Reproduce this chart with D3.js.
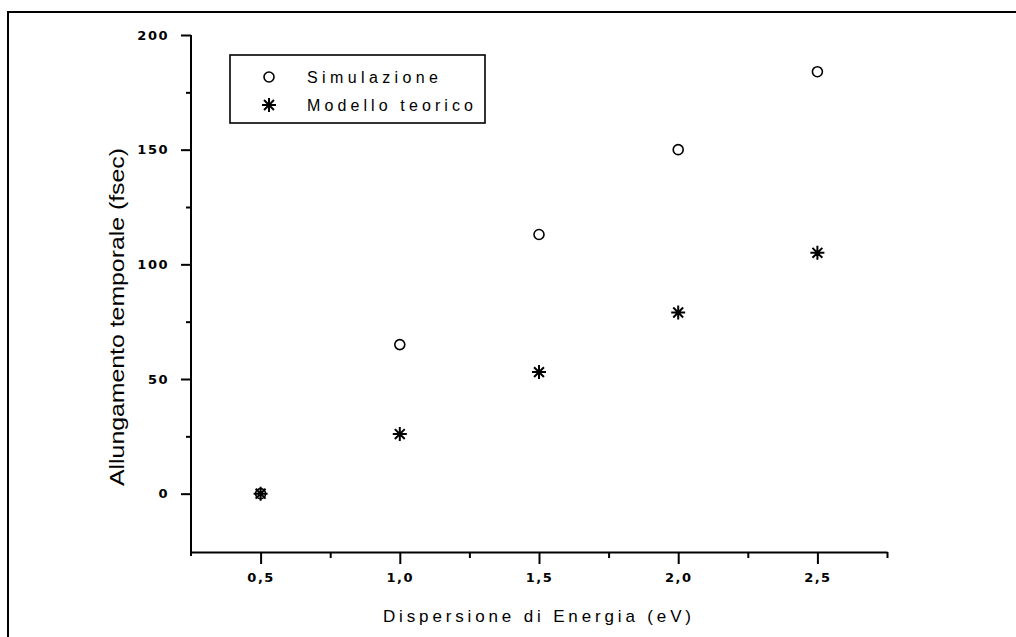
<!DOCTYPE html>
<html>
<head>
<meta charset="utf-8">
<script src="https://cdn.jsdelivr.net/npm/d3@7"></script>
<style>
  body { margin: 0; background: #fff; }
  svg { display: block; }
</style>
</head>
<body>
<div id="chart"></div>
<script>
// data
var energia = [0.5, 1.0, 1.5, 2.0, 2.5];
var simulazione = [0, 65, 113, 150, 184];
var modello = [0, 26, 53, 79, 105];
var xTicks = [0.5, 1.0, 1.5, 2.0, 2.5];
var yTicks = [0, 50, 100, 150, 200];
var seriesNames = ["Simulazione", "Modello teorico"];

var W = 1016, H = 637;
var svg = d3.select("#chart").append("svg").attr("width", W).attr("height", H);

// outer frame (open to the right and bottom, as in the picture)
svg.append("path")
  .attr("d", "M8,650 L8,12 L1030,12")
  .attr("fill", "none").attr("stroke", "#000").attr("stroke-width", 2);

var x = d3.scaleLinear().domain([0.25, 2.75]).range([191, 887]);
var y = d3.scaleLinear().domain([-25, 200]).range([551, 35]);

var comma = function(d){ return d3.format(".1f")(d).replace(".", ","); };

function tickText(g) {
  g.selectAll(".tick text")
    .style("font-family", "DejaVu Sans, sans-serif")
    .style("font-weight", "bold")
    .style("font-size", "13px")
    .style("letter-spacing", "1.5px");
}

// minor ticks first
svg.append("g").attr("transform", "translate(0,552)")
  .call(d3.axisBottom(x).tickValues([0.75, 1.25, 1.75, 2.25, 2.75]).tickSize(6).tickFormat(""))
  .call(function(g){ g.select(".domain").remove(); g.selectAll("line").attr("stroke-width", 2); });
svg.append("g").attr("transform", "translate(191,0)")
  .call(d3.axisLeft(y).tickValues([25, 75, 125, 175]).tickSize(5).tickFormat(""))
  .call(function(g){ g.select(".domain").remove(); g.selectAll("line").attr("stroke-width", 2); });

// major axes
var xAxis = svg.append("g").attr("transform", "translate(0,552)")
  .call(d3.axisBottom(x).tickValues(xTicks).tickSize(12).tickSizeOuter(0).tickPadding(9).tickFormat(comma))
  .call(tickText);
xAxis.select(".domain").attr("stroke-width", 2);
xAxis.selectAll(".tick line").attr("stroke-width", 2);

var yAxis = svg.append("g").attr("transform", "translate(191,0)")
  .call(d3.axisLeft(y).tickValues(yTicks).tickSize(10).tickSizeOuter(0).tickPadding(12).tickFormat(d3.format("d")))
  .call(tickText);
yAxis.select(".domain").attr("stroke-width", 2).attr("d", "M0,35V556");
yAxis.selectAll(".tick line").attr("stroke-width", 2);

// axis titles
svg.append("text")
  .attr("x", 383).attr("y", 622)
  .attr("textLength", 308).attr("lengthAdjust", "spacing")
  .style("font-family", "Liberation Sans, Arial, sans-serif").style("font-size", "17px")
  .text("Dispersione di Energia (eV)");

svg.append("text")
  .attr("transform", "translate(124,486) rotate(-90)")
  .attr("textLength", 338).attr("lengthAdjust", "spacingAndGlyphs")
  .style("font-family", "Liberation Sans, Arial, sans-serif").style("font-size", "20px")
  .text("Allungamento temporale (fsec)");

// star marker path
function star(r) {
  var d = r * Math.SQRT1_2;
  return "M" + (-r) + ",0H" + r + "M0," + (-r) + "V" + r +
    "M" + (-d) + "," + (-d) + "L" + d + "," + d + "M" + (-d) + "," + d + "L" + d + "," + (-d);
}

// points
svg.append("g").selectAll("circle")
  .data(energia)
  .join("circle")
  .attr("cx", function(d){ return x(d); })
  .attr("cy", function(d, i){ return y(simulazione[i]); })
  .attr("r", 5)
  .attr("fill", "none").attr("stroke", "#000").attr("stroke-width", 1.6);

svg.append("g").selectAll("path")
  .data(energia)
  .join("path")
  .attr("transform", function(d, i){ return "translate(" + x(d) + "," + y(modello[i]) + ")"; })
  .attr("d", star(7))
  .attr("fill", "none").attr("stroke", "#000").attr("stroke-width", 2);

// legend
var legend = svg.append("g");
legend.append("rect")
  .attr("x", 230).attr("y", 55).attr("width", 255).attr("height", 68)
  .attr("fill", "#fff").attr("stroke", "#000").attr("stroke-width", 1.6);
legend.append("circle").attr("cx", 269).attr("cy", 77).attr("r", 5)
  .attr("fill", "none").attr("stroke", "#000").attr("stroke-width", 1.6);
legend.append("path").attr("transform", "translate(269,105)").attr("d", star(7))
  .attr("fill", "none").attr("stroke", "#000").attr("stroke-width", 2);
var lens = [131, 166];
legend.selectAll("text.lab")
  .data(seriesNames)
  .join("text")
  .attr("class", "lab")
  .attr("x", 307)
  .attr("y", function(d, i){ return 83 + i * 28; })
  .attr("textLength", function(d, i){ return lens[i]; })
  .attr("lengthAdjust", "spacing")
  .style("font-family", "Liberation Sans, Arial, sans-serif").style("font-size", "16px")
  .text(function(d){ return d; });
</script>
</body>
</html>
